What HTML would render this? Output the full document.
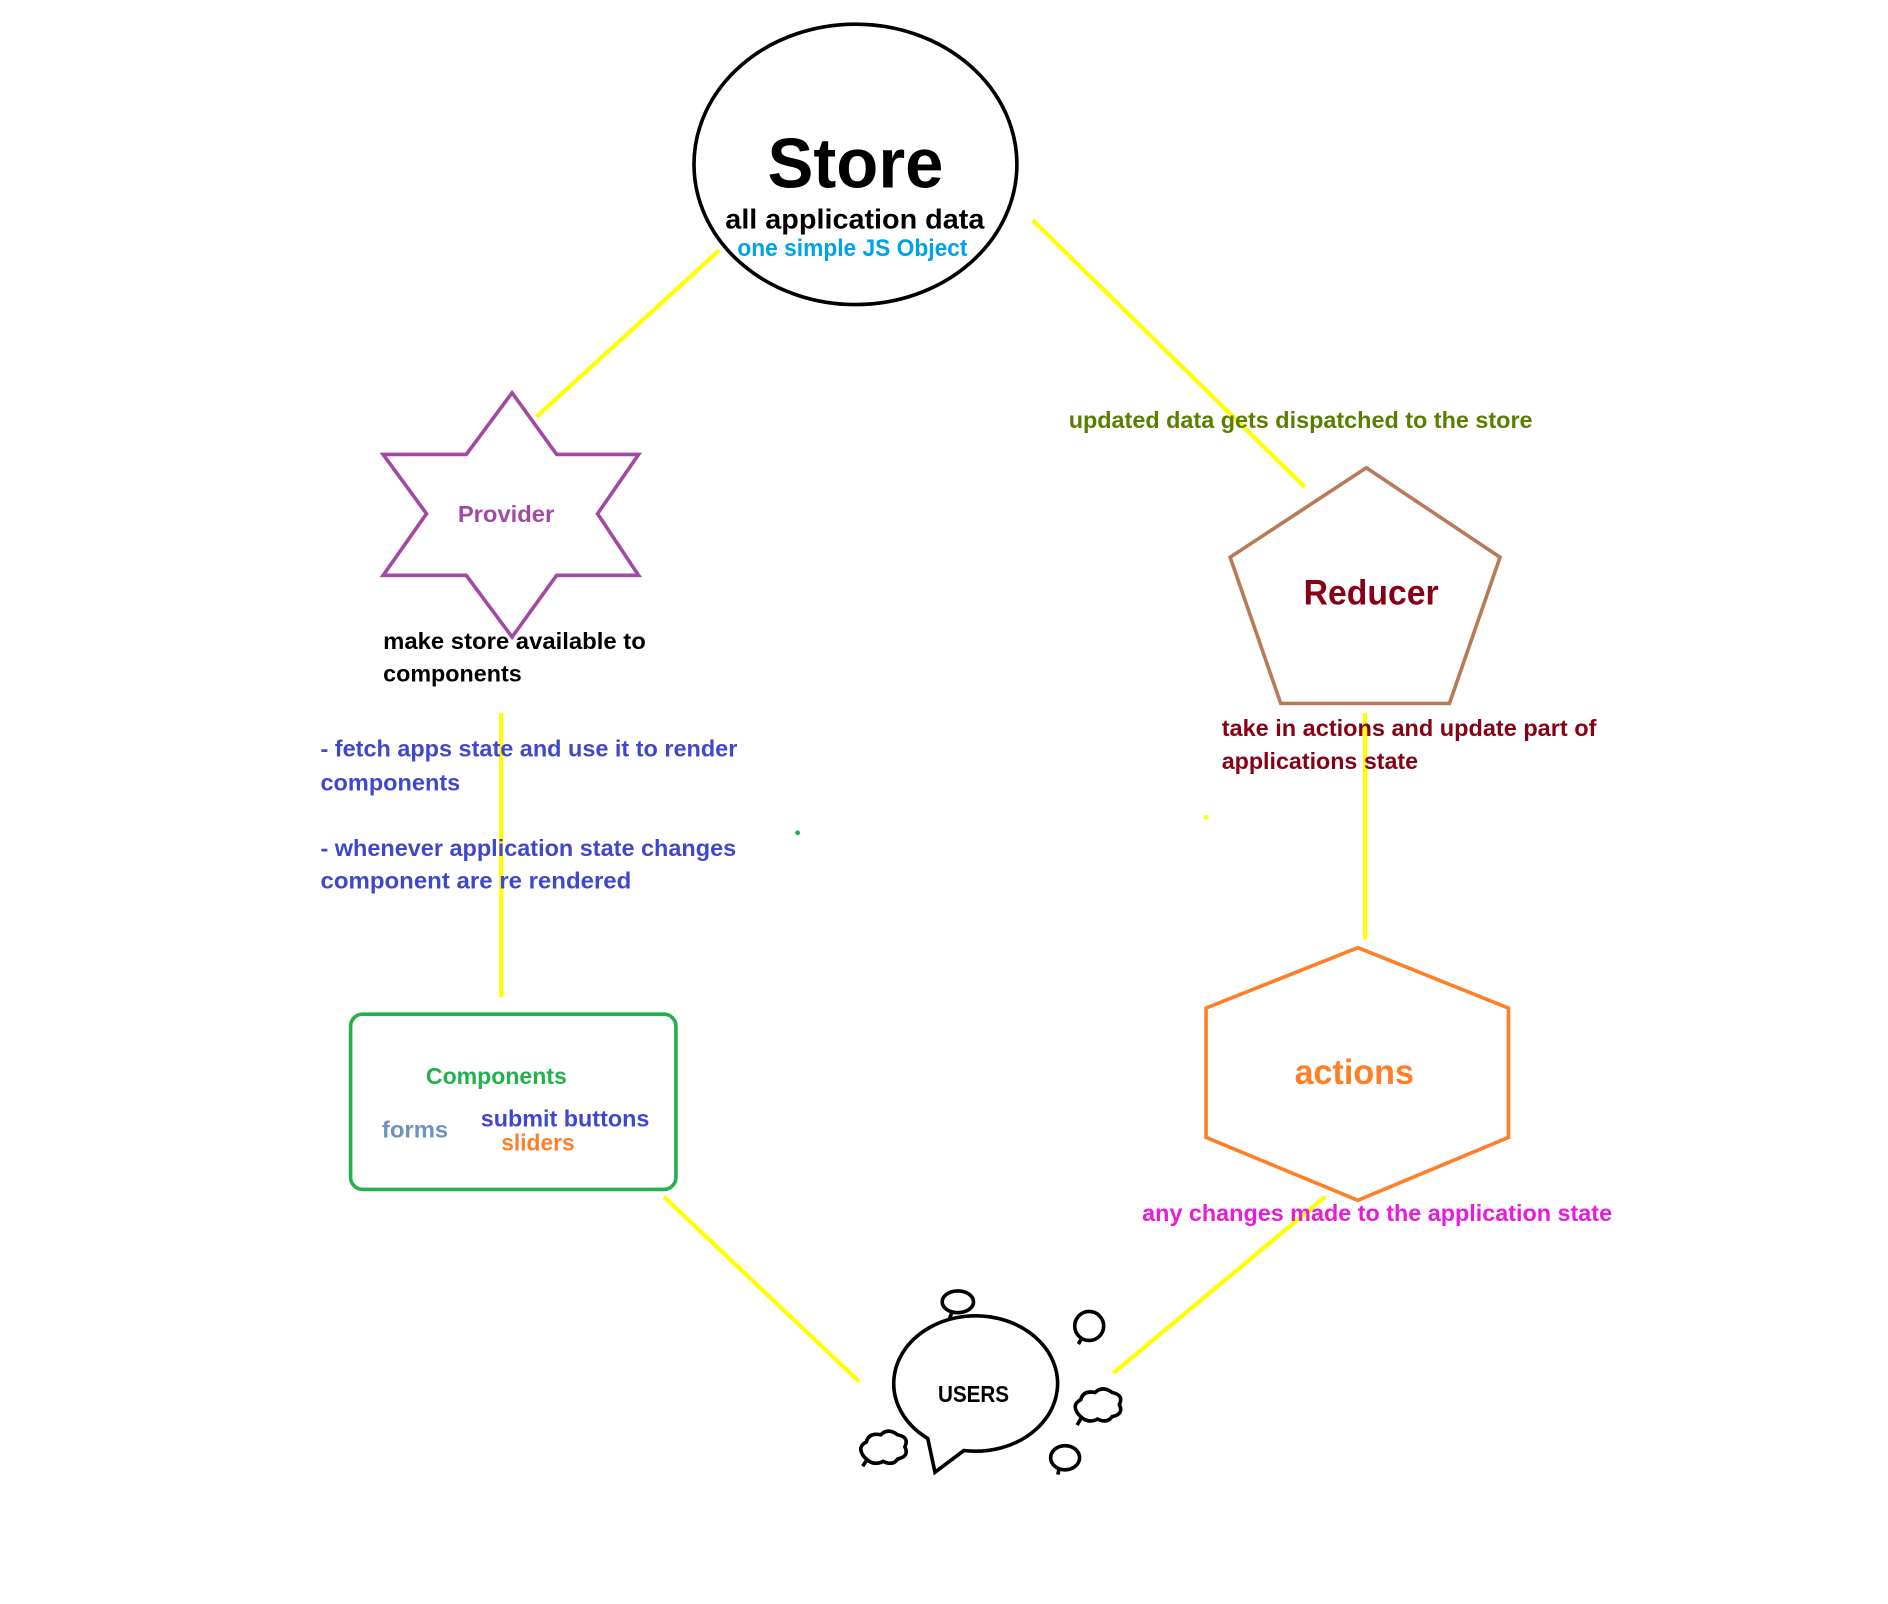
<!DOCTYPE html>
<html><head><meta charset="utf-8"><style>html,body{margin:0;padding:0;background:#fff}svg{display:block}</style></head>
<body>
<svg width="1888" height="1604" viewBox="0 0 1567 1327" preserveAspectRatio="none" xmlns="http://www.w3.org/2000/svg" font-family="Liberation Sans, sans-serif" font-weight="bold">
<rect width="1567" height="1327" fill="#fff"/>
<g stroke="#ffff00" stroke-width="3.5" fill="none">
<line x1="597" y1="207" x2="445" y2="345"/>
<line x1="857" y1="182" x2="1083" y2="403"/>
<line x1="416" y1="590" x2="416" y2="825"/>
<line x1="1133" y1="590" x2="1133" y2="777"/>
<line x1="551" y1="990" x2="713" y2="1143"/>
<line x1="1100" y1="990" x2="924" y2="1136"/>
</g>
<circle cx="662" cy="689" r="2" fill="#22b14c"/>
<circle cx="1001" cy="676" r="2" fill="#ffff00"/>
<ellipse cx="710" cy="136" rx="134" ry="116" fill="none" stroke="#000" stroke-width="3"/>
<text x="710" y="155" text-anchor="middle" font-size="58" textLength="146" lengthAdjust="spacingAndGlyphs">Store</text>
<text x="602" y="189" font-size="23" textLength="215" lengthAdjust="spacingAndGlyphs">all application data</text>
<text x="612" y="212" font-size="20" fill="#00a2e8" textLength="191" lengthAdjust="spacingAndGlyphs">one simple JS Object</text>
<polygon points="425,325 462,376 530,376 496,425 530,476 462,476 425,527 387,476 318,476 354,425 318,376 387,376" fill="none" stroke="#a349a4" stroke-width="3"/>
<text x="420" y="432" text-anchor="middle" font-size="19" fill="#a349a4" textLength="80" lengthAdjust="spacingAndGlyphs">Provider</text>
<text x="318" y="537" font-size="19" fill="#000" textLength="218" lengthAdjust="spacingAndGlyphs">make store available to</text>
<text x="318" y="564" font-size="19" fill="#000" textLength="115" lengthAdjust="spacingAndGlyphs">components</text>
<g fill="#3f48cc" font-size="19">
<text x="266" y="626" textLength="346" lengthAdjust="spacingAndGlyphs">- fetch apps state and use it to render</text>
<text x="266" y="654" textLength="116" lengthAdjust="spacingAndGlyphs">components</text>
<text x="266" y="708" textLength="345" lengthAdjust="spacingAndGlyphs">- whenever application state changes</text>
<text x="266" y="735" textLength="258" lengthAdjust="spacingAndGlyphs">component are re rendered</text>
</g>
<text x="887" y="354" font-size="19" fill="#5a7f00" textLength="385" lengthAdjust="spacingAndGlyphs">updated data gets dispatched to the store</text>
<polygon points="1134,387 1245,461 1203,582 1063,582 1021,461" fill="none" stroke="#b97a57" stroke-width="3"/>
<text x="1138" y="500" text-anchor="middle" font-size="29" fill="#880015" textLength="112" lengthAdjust="spacingAndGlyphs">Reducer</text>
<text x="1014" y="609" font-size="19" fill="#880015" textLength="311" lengthAdjust="spacingAndGlyphs">take in actions and update part of</text>
<text x="1014" y="636" font-size="19" fill="#880015" textLength="163" lengthAdjust="spacingAndGlyphs">applications state</text>
<polygon points="1127,784 1252,834 1252,941 1127,993 1001,941 1001,834" fill="none" stroke="#ff7f27" stroke-width="3"/>
<text x="1124" y="897" text-anchor="middle" font-size="29" fill="#ff7f27" textLength="99" lengthAdjust="spacingAndGlyphs">actions</text>
<text x="948" y="1010" font-size="19" fill="#e81adb" textLength="390" lengthAdjust="spacingAndGlyphs">any changes made to the application state</text>
<rect x="291" y="839" width="270" height="145" rx="10" fill="none" stroke="#22b14c" stroke-width="3"/>
<text x="412" y="897" text-anchor="middle" font-size="19" fill="#22b14c" textLength="117" lengthAdjust="spacingAndGlyphs">Components</text>
<text x="317" y="941" font-size="19" fill="#7092be" textLength="55" lengthAdjust="spacingAndGlyphs">forms</text>
<text x="399" y="932" font-size="19" fill="#3f48cc" textLength="140" lengthAdjust="spacingAndGlyphs">submit buttons</text>
<text x="416" y="952" font-size="19" fill="#ff7f27" textLength="61" lengthAdjust="spacingAndGlyphs">sliders</text>
<g fill="none" stroke="#000" stroke-width="3">
<path d="M770,1190 A68,56 0 1 1 800,1200 L776,1218 Z"/>
<ellipse cx="795" cy="1077" rx="13" ry="9"/>
<path d="M790,1086 L788,1091"/>
<ellipse cx="904" cy="1097" rx="12" ry="12"/>
<path d="M898,1107 L895,1112"/>
<ellipse cx="884" cy="1206" rx="12" ry="10"/>
<path d="M879,1215 L878,1220"/>
<path d="M895,1170 q-6,-8 2,-12 q2,-8 12,-6 q6,-6 14,0 q10,2 6,10 q4,8 -6,10 q-4,6 -12,2 q-8,4 -14,-2 z M898,1172 l-4,7"/>
<path d="M717,1205 q-6,-8 2,-12 q2,-8 12,-6 q6,-6 14,0 q10,2 6,10 q4,8 -6,10 q-4,6 -12,2 q-8,4 -14,-2 z M720,1207 l-4,6"/>
</g>
<text x="808" y="1160" text-anchor="middle" font-size="19" fill="#000" textLength="59" lengthAdjust="spacingAndGlyphs">USERS</text>
</svg>
</body></html>
